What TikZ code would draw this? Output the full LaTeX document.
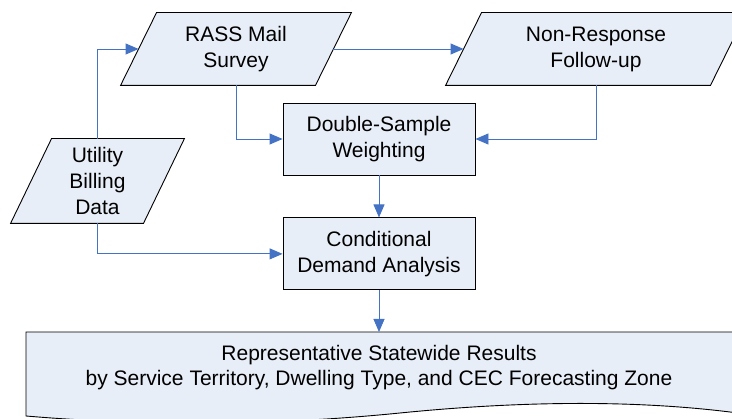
\documentclass[tikz,border=0pt]{standalone}
\usepackage{fontspec}
\setmainfont{Liberation Sans}
\usetikzlibrary{arrows.meta,positioning,backgrounds}
\definecolor{boxfill}{RGB}{232,238,247}
\definecolor{linkblue}{RGB}{68,114,196}
\tikzset{
  flow box/.style={
    draw=black, fill=boxfill, line width=0.9pt,
    inner sep=0pt, align=center,
    font=\fontsize{21}{26}\selectfont,
    minimum width=192pt, minimum height=72pt,
  },
  data box/.style={
    flow box, draw=none, fill=none,
    minimum width=#1,
  },
  outline/.style={
    draw=black, fill=boxfill, line width=0.9pt, line join=miter,
  },
  link/.style={
    draw=linkblue, line width=0.9pt,
    -{Triangle[length=13pt,width=11pt]},
  }
}
\begin{document}
\begin{tikzpicture}[x=1pt,y=-1pt]
    \path [use as bounding box, clip] (0,0) rectangle (732,419);
    % input data
    \node [data box=194pt] (rass) at (236,49) {RASS Mail\\Survey};
    \node [data box=264pt] (nonresp) at (596,49) {Non-Response\\Follow-up};
    \node [data box=132pt, minimum height=84pt] (util) at (97.5,181) {Utility\\Billing\\Data};
    \begin{scope}[on background layer]
      \foreach \n/\s in {rass/18, nonresp/18, util/20.5}
        \draw [outline] ([xshift=-\s pt]\n.south west) -- ([xshift=-\s pt]\n.south east)
          -- ([xshift=\s pt]\n.north east) -- ([xshift=\s pt]\n.north west) -- cycle;
    \end{scope}
    % processing steps
    \node [flow box] (weight) at (379,139) {Double-Sample\\Weighting};
    \node [flow box, below=42pt of weight] (cda) {Conditional\\Demand Analysis};
    % output document
    \draw [outline] (26,332) -- (734,332) -- (734,412.5)
        .. controls (620,398) and (500,403) .. (400,413)
        .. controls (250,428) and (120,424) .. (26,416) -- cycle;
    \coordinate (doctop) at (379,332);
    \node [align=center, font=\fontsize{21}{25.5}\selectfont] (results) at (379,367.5)
        {Representative Statewide Results\\by Service Territory, Dwelling Type, and CEC Forecasting Zone};

    \draw [link] (util.north) |- (rass.west);
    \draw [link] (rass.east) -- (nonresp.west);
    \draw [link] (rass.south) |- (weight.west);
    \draw [link] (nonresp.south) |- (weight.east);
    \draw [link] (weight) -- (cda);
    \draw [link] (util.south) |- (cda.west);
    \draw [link] (cda) -- (doctop);
\end{tikzpicture}
\end{document}
